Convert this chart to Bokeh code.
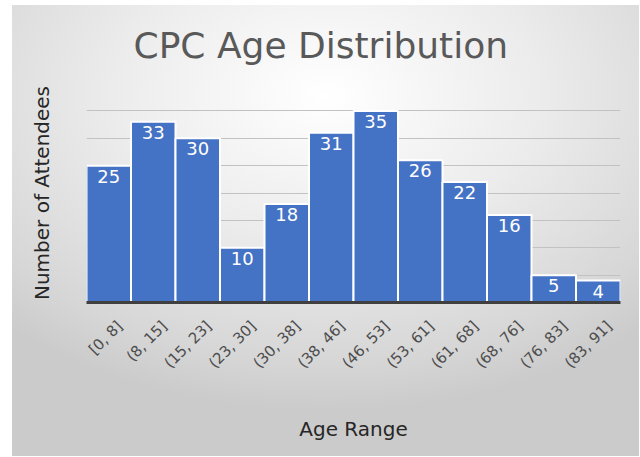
import math
from bokeh.plotting import figure
from bokeh.models import (ColumnDataSource, LabelSet, SingleIntervalTicker,
                          Range1d, LinearAxis, FixedTicker)
from bokeh.core.properties import value
from bokeh.embed import file_html
from bokeh.resources import INLINE

categories = ["[0, 8]", "(8, 15]", "(15, 23]", "(23, 30]", "(30, 38]", "(38, 46]",
              "(46, 53]", "(53, 61]", "(61, 68]", "(68, 76]", "(76, 83]", "(83, 91]"]
counts = [25, 33, 30, 10, 18, 31, 35, 26, 22, 16, 5, 4]
count_labels = [str(c) for c in counts]
y_ticks = [0, 5, 10, 15, 20, 25, 30, 35, 40]

title_text = "CPC Age Distribution"
x_title = "Age Range"
y_title = "Number of Attendees"

FONT = "DejaVu Sans"

n = len(categories)
centers = [i + 0.5 for i in range(n)]
source = ColumnDataSource(data=dict(x=centers, count=counts, lab=count_labels))

p = figure(x_range=Range1d(0, n), y_range=(0, 40),
           width=627, height=451, output_backend="svg", toolbar_location=None,
           x_axis_location=None,
           min_border_left=74, min_border_right=19, min_border_top=78, min_border_bottom=154,
           title=title_text)

p.styles = {"margin-left": "12px", "margin-top": "5px",
            "background-image": "radial-gradient(ellipse 75% 70% at 50% 20%, #ffffff 0%, #ececec 45%, #d6d6d6 85%, #cbcbcb 100%)"}
p.border_fill_color = None
p.background_fill_color = None
p.outline_line_color = None

p.title.align = "left"
p.title.offset = 47
p.title.text_font = FONT
p.title.text_font_style = "normal"
p.title.text_font_size = "36px"
p.title.text_color = "#595959"
p.title.standoff = 35

p.vbar(x="x", top="count", width=1.0, source=source,
       fill_color="#4472C4", line_color="#ffffff", line_width=2)

labels = LabelSet(x="x", y="count", text="lab", source=source,
                  y_offset=-4, text_align="center", text_baseline="top",
                  text_color="#ffffff", text_font_size="18px", text_font=value(FONT))
p.add_layout(labels)

for g in p.grid:
    if g.dimension == 0:
        g.visible = False
p.ygrid.grid_line_color = "#c2c2c2"
p.ygrid.grid_line_width = 1
p.yaxis.ticker = SingleIntervalTicker(interval=5)

# category axis labels, placed like the original's rotated labels
p.extra_x_ranges = {"lab": Range1d(-0.25, n - 0.25)}
xaxis = LinearAxis(x_range_name="lab", ticker=FixedTicker(ticks=centers),
                   major_label_overrides={t: c for t, c in zip(centers, categories)})
xaxis.axis_line_color = "#3f3f3f"
xaxis.axis_line_width = 3
xaxis.major_tick_line_color = None
xaxis.minor_tick_line_color = None
xaxis.major_tick_out = 0
xaxis.major_tick_in = 0
xaxis.major_label_orientation = math.pi / 4
xaxis.major_label_standoff = 21
xaxis.major_label_text_font = FONT
xaxis.major_label_text_font_size = "15px"
xaxis.major_label_text_color = "#4d4d4d"
xaxis.axis_label = x_title
xaxis.axis_label_text_font = FONT
xaxis.axis_label_text_font_style = "normal"
xaxis.axis_label_text_font_size = "20px"
xaxis.axis_label_text_color = "#262626"
xaxis.axis_label_standoff = 36
p.add_layout(xaxis, "below")

p.yaxis.axis_line_color = None
p.yaxis.major_tick_line_color = None
p.yaxis.minor_tick_line_color = None
p.yaxis.major_tick_out = 0
p.yaxis.major_label_standoff = 0
p.yaxis.major_label_overrides = {t: "" for t in y_ticks}
p.yaxis.axis_label = y_title
p.yaxis.axis_label_text_font = FONT
p.yaxis.axis_label_text_font_style = "normal"
p.yaxis.axis_label_text_font_size = "20px"
p.yaxis.axis_label_text_color = "#262626"
p.yaxis.axis_label_standoff = 29

open("out.html", "w").write(file_html(p, INLINE))
